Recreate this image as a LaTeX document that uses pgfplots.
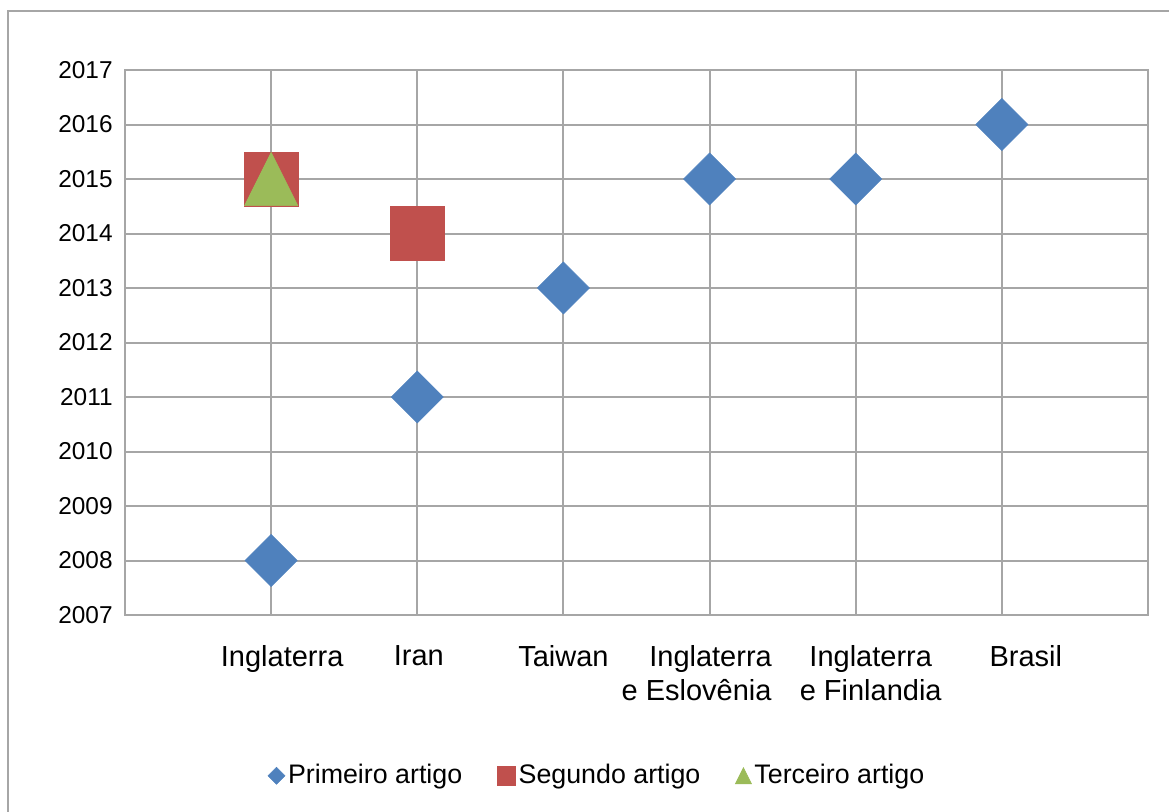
\documentclass[border=0pt]{standalone}
\usepackage{fontspec}
\setmainfont{Liberation Sans}
\usepackage{pgfplots}
\pgfplotsset{compat=1.18}

\definecolor{primeiro}{HTML}{4F81BD}
\definecolor{segundo}{HTML}{C0504D}
\definecolor{terceiro}{HTML}{9BBB59}
\definecolor{grade}{HTML}{A6A6A6}

% diamond with equal horizontal and vertical half-diagonals
\pgfdeclareplotmark{losango}{%
  \pgfpathmoveto{\pgfqpoint{0pt}{\pgfplotmarksize}}%
  \pgfpathlineto{\pgfqpoint{\pgfplotmarksize}{0pt}}%
  \pgfpathlineto{\pgfqpoint{0pt}{-\pgfplotmarksize}}%
  \pgfpathlineto{\pgfqpoint{-\pgfplotmarksize}{0pt}}%
  \pgfpathclose\pgfusepathqfillstroke}
% triangle as tall as it is wide, centred on the point
\pgfdeclareplotmark{triangulo}{%
  \pgfpathmoveto{\pgfqpoint{0pt}{\pgfplotmarksize}}%
  \pgfpathlineto{\pgfqpoint{\pgfplotmarksize}{-\pgfplotmarksize}}%
  \pgfpathlineto{\pgfqpoint{-\pgfplotmarksize}{-\pgfplotmarksize}}%
  \pgfpathclose\pgfusepathqfillstroke}

\begin{document}
\begin{tikzpicture}
\useasboundingbox (0,0) rectangle (584.5pt,406pt);
\draw[grade, line width=1pt] (4pt,0) -- (4pt,400.5pt) -- (584.5pt,400.5pt);
\begin{axis}[
  at={(62.5pt,98.5pt)}, anchor=south west,
  scale only axis, width=511.5pt, height=272.5pt,
  xmin=-1, xmax=6, ymin=2007, ymax=2017,
  xtick={0,...,5}, ytick={2007,...,2017},
  xticklabels={
    {\hspace*{11pt}Inglaterra},
    {\hspace*{1.5pt}Iran},
    Taiwan,
    {\hspace*{14pt}Inglaterra\hspace*{13pt}\\e Eslovênia\hspace*{13pt}},
    {\hspace*{15pt}Inglaterra\\\hspace*{15pt}e Finlandia},
    {\hspace*{24pt}Brasil}},
  xticklabel style={align=center, anchor=north, inner sep=0pt, yshift=-15pt,
    font=\fontsize{14.5}{17}\selectfont},
  yticklabel style={anchor=east, inner sep=0pt, xshift=-6pt,
    font=\fontsize{12.2}{14}\selectfont},
  /pgf/number format/assume math mode=true,
  /pgf/number format/1000 sep={},
  grid=major,
  major grid style={draw=grade, line width=1pt},
  axis line style={draw=grade, line width=1pt},
  tick style={draw=none},
  legend columns=3,
  legend style={draw=none, fill=none, at={(0.462,-0.295)}, anchor=center,
    font=\fontsize{13.4}{16}\selectfont,
    nodes={inner sep=1.5pt},
    /tikz/every even column/.append style={column sep=16pt}},
  legend image code/.code={%
    \draw[#1] plot coordinates {(0pt,0pt)};},
]
\addplot[only marks, mark=losango, mark size=13pt, color=primeiro,
  mark options={line width=0.3pt}, legend image post style={mark size=4.25pt}]
  coordinates {(0,2008) (1,2011) (2,2013) (3,2015) (4,2015) (5,2016)};
\addlegendentry{Primeiro artigo}
\addplot[only marks, mark=square*, mark size=13.5pt, color=segundo,
  mark options={line width=0.3pt}, legend image post style={mark size=4.6pt}]
  coordinates {(0,2015) (1,2014)};
\addlegendentry{Segundo artigo}
\addplot[only marks, mark=triangulo, mark size=13.3pt, color=terceiro,
  mark options={line width=0.3pt}, legend image post style={mark size=4pt}]
  coordinates {(0,2015)};
\addlegendentry{Terceiro artigo}
\end{axis}
\end{tikzpicture}
\end{document}
